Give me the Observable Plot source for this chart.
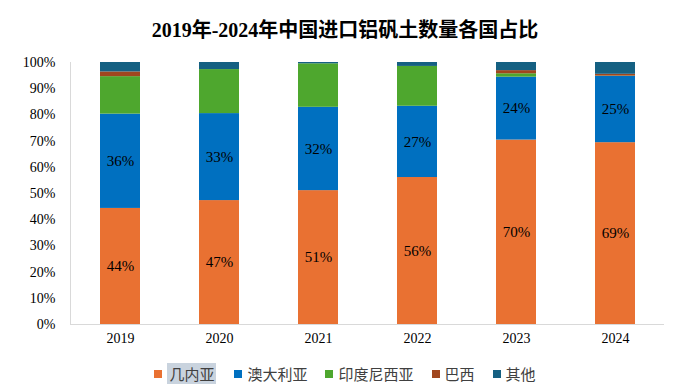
<!DOCTYPE html>
<html>
<head>
<meta charset="utf-8">
<script src="https://cdn.jsdelivr.net/npm/d3@7"></script>
<script src="https://cdn.jsdelivr.net/npm/@observablehq/plot@0.6"></script>
<style>
  body { margin:0; background:#fff; width:690px; height:389px; overflow:hidden; }
  #title { height:48px; line-height:60px; text-align:center; font-family:"Liberation Serif","Noto Sans CJK SC",serif; font-weight:bold; font-size:20px; color:#000; }
  #legend { display:flex; justify-content:center; align-items:center; height:31px; font-family:"Noto Sans CJK SC",sans-serif; font-size:15px; color:#404040; gap:0; }
  .item { display:flex; align-items:center; margin:0 9px; }
  .sw { width:8px; height:8px; margin-right:5px; }
  .hl { background:#c9d3de; padding:0 2px; }
</style>
</head>
<body>
<div id="title">2019年-2024年中国进口铝矾土数量各国占比</div>
<div id="chart"></div>
<div id="legend"></div>
<script>
const years = ["2019","2020","2021","2022","2023","2024"];
const countries = ["几内亚","澳大利亚","印度尼西亚","巴西","其他"];
const colors = ["#E97132","#0070C0","#4EA72E","#A0461E","#156082"];
const guinea    = [44.3, 47.3, 51.1, 56.1, 70.4, 69.4];
const australia = [36.0, 33.2, 31.8, 27.2, 24.0, 25.3];
const indonesia = [14.3, 16.8, 16.6, 15.2, 1.3, 0.1];
const brazil    = [1.8, 0, 0, 0, 1.2, 0.7];
const others    = [3.6, 2.7, 0.5, 1.5, 3.1, 4.5];
const labeled = ["几内亚","澳大利亚"];

const series = [guinea, australia, indonesia, brazil, others];
const data = [];
years.forEach((yr, i) => {
  countries.forEach((c, j) => data.push({year: yr, country: c, value: series[j][i]}));
});

const chart = Plot.plot({
  width: 690, height: 310,
  marginLeft: 70, marginRight: 26, marginTop: 14, marginBottom: 34,
  style: {fontFamily: "'Liberation Serif', serif", fontSize: "14px", color: "#000", background: "#fff"},
  x: {domain: years, paddingInner: 0.6, paddingOuter: 0.3, label: null, tickSize: 0, tickPadding: 9},
  y: {domain: [0, 100], ticks: d3.range(0, 101, 10), tickFormat: d => d + "%", label: null, tickSize: 0, tickPadding: 15},
  color: {domain: countries, range: colors},
  marks: [
    Plot.barY(data, {x: "year", y: "value", fill: "country"}),
    Plot.text(data.filter(d => labeled.includes(d.country)),
      Plot.stackY({x: "year", y: "value", z: "country", text: d => Math.round(d.value) + "%", fill: "#000", fontSize: 15})),
    Plot.ruleY([0], {stroke: "#d9d9d9"}),
    Plot.frame({anchor: "left", stroke: "#d9d9d9"})
  ]
});
document.getElementById("chart").appendChild(chart);

const legend = document.getElementById("legend");
countries.forEach((c, j) => {
  const it = document.createElement("div");
  it.className = "item";
  const sw = document.createElement("div");
  sw.className = "sw"; sw.style.background = colors[j];
  const t = document.createElement("span");
  t.textContent = c;
  if (j === 0) t.className = "hl";
  it.appendChild(sw); it.appendChild(t);
  legend.appendChild(it);
});
</script>
</body>
</html>
